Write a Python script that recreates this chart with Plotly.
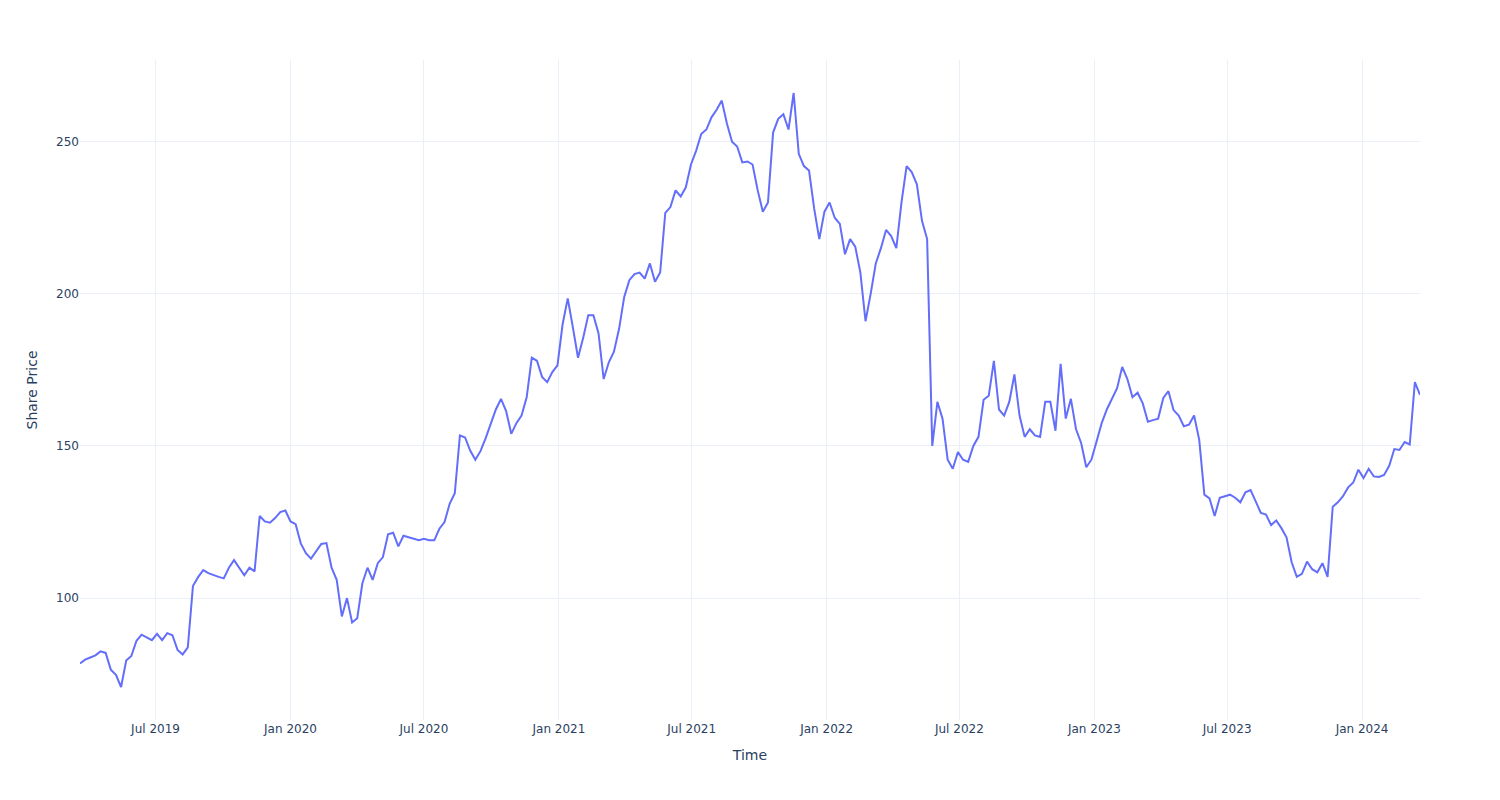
import pandas as pd
import plotly.graph_objects as go

start_date = "2019-03-20"

prices = [
    78.5, 79.8, 80.5, 81.2, 82.5, 82.0, 76.5, 74.8, 70.8, 79.5,
    81.0, 86.0, 88.0, 87.0, 86.2, 88.3, 86.2, 88.5, 87.8, 83.0,
    81.5, 83.8, 104.0, 106.9, 109.2, 108.2, 107.5, 107.0, 106.5, 110.0,
    112.5, 110.0, 107.5, 110.0, 108.8, 127.0, 125.2, 124.8, 126.3, 128.3,
    128.8, 125.2, 124.3, 118.0, 114.8, 113.0, 115.5, 117.8, 118.1, 110.0,
    106.0, 94.0, 100.0, 92.0, 93.4, 104.9, 110.0, 106.0, 111.5, 113.5,
    121.0, 121.5, 117.0, 120.5, 120.0, 119.5, 119.0, 119.5, 119.0, 119.0,
    122.8, 125.0, 131.0, 134.5, 153.5, 152.8, 148.5, 145.5, 148.3, 152.5,
    157.5, 162.0, 165.5, 161.5, 154.0, 157.5, 160.0, 166.0, 179.0, 178.0,
    172.7, 171.0, 174.3, 176.5, 190.0, 198.5, 189.0, 179.0, 185.5, 193.0,
    193.0, 187.0, 172.0, 177.5, 181.0, 188.5, 199.0, 204.5, 206.5, 207.0,
    205.0, 210.0, 204.0, 207.0, 226.6, 228.5, 234.0, 232.0, 235.0, 242.5,
    247.0, 252.5, 254.0, 258.0, 260.5, 263.5, 256.0, 250.0, 248.4, 243.2,
    243.5, 242.5, 234.0, 227.0, 230.0, 253.0, 257.5, 259.0, 254.0, 266.0,
    246.0, 242.0, 240.5, 228.0, 218.0, 227.0, 230.0, 225.0, 223.0, 213.0,
    218.0, 215.5, 207.0, 191.0, 200.0, 210.0, 215.0, 221.0, 219.0, 215.0,
    230.0, 242.0, 240.0, 236.0, 224.0, 218.0, 150.0, 164.5, 159.0, 145.5,
    142.5, 148.0, 145.5, 144.8, 150.0, 153.0, 165.2, 166.5, 178.0, 162.0,
    160.0, 164.5, 173.5, 160.0, 153.0, 155.5, 153.5, 153.0, 164.5, 164.5,
    155.0, 177.0, 159.0, 165.5, 155.5, 151.0, 143.0, 145.5, 151.5, 157.5,
    162.0, 165.5, 169.0, 176.0, 172.0, 166.0, 167.5, 164.0, 158.0, 158.5,
    159.0, 165.8, 168.0, 161.8, 160.0, 156.5, 157.0, 160.0, 152.0, 134.0,
    132.8, 127.0, 133.0, 133.5, 134.0, 133.0, 131.5, 134.8, 135.5, 131.8,
    128.0, 127.5, 124.0, 125.5, 123.0, 120.0, 111.8, 107.0, 108.0, 112.0,
    109.5, 108.5, 111.5, 107.0, 130.0, 131.5, 133.5, 136.4, 138.0, 142.2,
    139.5, 142.5, 140.0, 139.8, 140.5, 143.5, 149.0, 148.7, 151.3, 150.5,
    171.0, 166.8,
]

dates = pd.date_range(start_date, periods=len(prices), freq="7D")

fig = go.Figure()
fig.add_trace(go.Scatter(x=dates, y=prices, mode="lines",
                         line=dict(color="#636efa", width=2)))
fig.update_layout(
    template="plotly_white",
    width=1500, height=800,
    margin=dict(l=80, r=80, t=60, b=80),
    font=dict(family="DejaVu Sans", color="#2a3f5f"),
    xaxis=dict(title=dict(text="Time"), dtick="M6", tick0="2019-07-01",
               tickformat="%b %Y"),
    yaxis=dict(title=dict(text="Share Price")),
    showlegend=False,
)
fig.write_html("out.html")
